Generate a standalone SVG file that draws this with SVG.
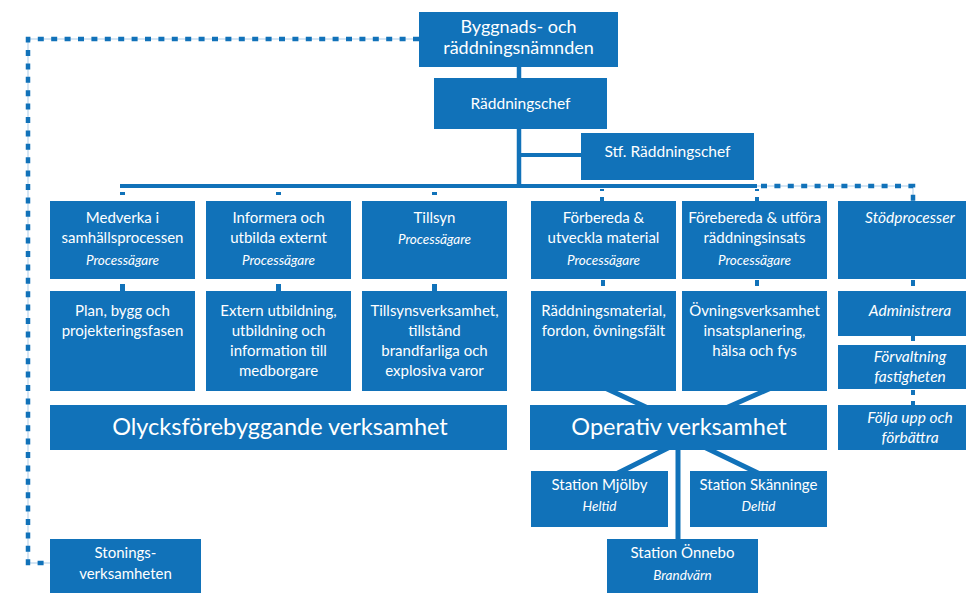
<svg xmlns="http://www.w3.org/2000/svg" width="966" height="593" viewBox="0 0 966 593">
<style>
.box{fill:#1172b9}
.ln{stroke:#1172b9;fill:none}
.dot{stroke:#1172b9;stroke-width:4.5;stroke-dasharray:6 7.4;fill:none}
.halo{stroke:#a9cbe8;stroke-width:1;fill:none}
.t{font-family:Lato,"Open Sans",sans-serif;fill:#fff;text-anchor:middle;font-size:15px}
.i{font-style:italic;font-size:13.5px}
.big{font-size:23.5px}
.h{font-size:18px}
.m{font-size:15.5px}
.tick{fill:#1172b9}
</style>
<rect width="966" height="593" fill="#fff"/>
<g id="connectors">
<path class="halo" d="M28 39 H419 M28 39 V563 H50"/>
<path class="dot" d="M419 39 H28 V563 H50"/>
<path class="ln" stroke-width="4.5" d="M519 67 V186"/>
<path class="ln" stroke-width="4" d="M519 155 H581"/>
<path class="ln" stroke-width="4" d="M120 186 H757"/>
<path class="halo" d="M757 186 H913 V201"/>
<path class="dot" d="M761 186 H913 V201"/>
<rect class="tick" x="120" y="192" width="5" height="3"/>
<rect class="tick" x="276" y="192" width="5" height="3"/>
<rect class="tick" x="432" y="192" width="5" height="3"/>
<rect class="tick" x="600" y="189" width="4" height="2"/>
<rect class="tick" x="600" y="197" width="4" height="4"/>
<rect class="tick" x="755" y="189" width="4" height="2"/>
<rect class="tick" x="755" y="197" width="4" height="4"/>
<rect class="tick" x="120" y="284" width="5" height="7"/>
<rect class="tick" x="276" y="284" width="5" height="7"/>
<rect class="tick" x="432" y="284" width="5" height="7"/>
<rect class="tick" x="601" y="280" width="4" height="6"/>
<rect class="tick" x="755" y="280" width="4" height="6"/>
<rect class="tick" x="911" y="280" width="4" height="6"/>
<rect class="tick" x="911" y="336" width="4" height="5"/>
<rect class="tick" x="911" y="390" width="4" height="5"/>
<rect class="tick" x="911" y="401" width="4" height="4"/>
<path class="ln" stroke-width="5" d="M590 381 L678 422 M787 381 L694 422"/>
<path class="ln" stroke-width="5" d="M670 447 L616 474 M704 447 L760 474"/>
<path class="ln" stroke-width="5" d="M678 450 V539"/>
</g>
<g id="n-namnd"><rect class="box" x="419" y="12" width="199" height="55"/><text class="t h" x="518.5" y="33">Byggnads- och</text><text class="t h" x="518.5" y="54">räddningsnämnden</text></g>
<g id="n-chef"><rect class="box" x="434" y="78" width="173" height="51"/><text class="t m" x="520.5" y="109">Räddningschef</text></g>
<g id="n-stf"><rect class="box" x="581" y="133" width="173" height="47"/><text class="t m" x="667.5" y="157">Stf. Räddningschef</text></g>

<g id="n-medverka"><rect class="box" x="50" y="201" width="145" height="78"/><text class="t" x="122.5" y="223">Medverka i</text><text class="t" x="122.5" y="243">samhällsprocessen</text><text class="t i" x="122.5" y="265">Processägare</text></g>
<g id="n-informera"><rect class="box" x="206" y="201" width="145" height="78"/><text class="t" x="278.5" y="223">Informera och</text><text class="t" x="278.5" y="243">utbilda externt</text><text class="t i" x="278.5" y="265">Processägare</text></g>
<g id="n-tillsyn"><rect class="box" x="362" y="201" width="145" height="78"/><text class="t" x="434.5" y="223">Tillsyn</text><text class="t i" x="434.5" y="244">Processägare</text></g>
<g id="n-forbereda"><rect class="box" x="531" y="201" width="145" height="78"/><text class="t" x="603.5" y="223">Förbereda &amp;</text><text class="t" x="603.5" y="243">utveckla material</text><text class="t i" x="603.5" y="265">Processägare</text></g>
<g id="n-utfora"><rect class="box" x="682" y="201" width="145" height="78"/><text class="t" x="754.5" y="223">Förebereda &amp; utföra</text><text class="t" x="754.5" y="243">räddningsinsats</text><text class="t i" x="754.5" y="265">Processägare</text></g>
<g id="n-stod"><rect class="box" x="838" y="201" width="145" height="78"/><text class="t i m" x="910" y="223">Stödprocesser</text></g>

<g id="n-plan"><rect class="box" x="50" y="291" width="145" height="100"/><text class="t" x="122.5" y="316">Plan, bygg och</text><text class="t" x="122.5" y="336">projekteringsfasen</text></g>
<g id="n-extern"><rect class="box" x="206" y="291" width="145" height="100"/><text class="t" x="278.5" y="316">Extern utbildning,</text><text class="t" x="278.5" y="336">utbildning och</text><text class="t" x="278.5" y="356">information till</text><text class="t" x="278.5" y="376">medborgare</text></g>
<g id="n-tillsynsv"><rect class="box" x="362" y="291" width="145" height="100"/><text class="t" x="434.5" y="316">Tillsynsverksamhet,</text><text class="t" x="434.5" y="336">tillstånd</text><text class="t" x="434.5" y="356">brandfarliga och</text><text class="t" x="434.5" y="376">explosiva varor</text></g>
<g id="n-material"><rect class="box" x="531" y="291" width="145" height="100"/><text class="t" x="603.5" y="316">Räddningsmaterial,</text><text class="t" x="603.5" y="336">fordon, övningsfält</text></g>
<g id="n-ovning"><rect class="box" x="682" y="291" width="145" height="100"/><text class="t" x="754.5" y="316">Övningsverksamhet</text><text class="t" x="754.5" y="336">insatsplanering,</text><text class="t" x="754.5" y="356">hälsa och fys</text></g>
<g id="n-admin"><rect class="box" x="838" y="291" width="145" height="45"/><text class="t i m" x="910" y="316">Administrera</text></g>
<g id="n-forvaltning"><rect class="box" x="838" y="345" width="145" height="44"/><text class="t i m" x="910" y="362">Förvaltning</text><text class="t i m" x="910" y="382">fastigheten</text></g>

<g id="n-olycks"><rect class="box" x="50" y="405" width="457" height="45"/><text class="t big" x="280" y="435">Olycksförebyggande verksamhet</text></g>
<g id="n-operativ"><rect class="box" x="530" y="405" width="297" height="45"/><text class="t big" x="679" y="435">Operativ verksamhet</text></g>
<g id="n-folja"><rect class="box" x="838" y="405" width="145" height="45"/><text class="t i m" x="910" y="423">Följa upp och</text><text class="t i m" x="910" y="443">förbättra</text></g>

<g id="n-mjolby"><rect class="box" x="531" y="471" width="137" height="56"/><text class="t" x="599.5" y="490">Station Mjölby</text><text class="t i" x="599.5" y="511">Heltid</text></g>
<g id="n-skanninge"><rect class="box" x="690" y="471" width="137" height="56"/><text class="t" x="758.5" y="490">Station Skänninge</text><text class="t i" x="758.5" y="511">Deltid</text></g>
<g id="n-onnebo"><rect class="box" x="607" y="539" width="151" height="56"/><text class="t" x="682.5" y="558">Station Önnebo</text><text class="t i" x="682.5" y="580">Brandvärn</text></g>
<g id="n-stonings"><rect class="box" x="50" y="539" width="151" height="56"/><text class="t" x="125.5" y="558">Stonings-</text><text class="t" x="125.5" y="579">verksamheten</text></g>
</svg>
